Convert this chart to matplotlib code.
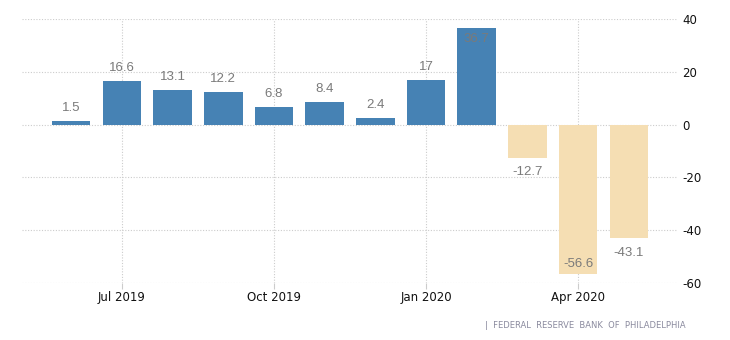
import matplotlib
matplotlib.use("Agg")
import matplotlib.pyplot as plt

months = ["Jun 2019", "Jul 2019", "Aug 2019", "Sep 2019", "Oct 2019", "Nov 2019",
          "Dec 2019", "Jan 2020", "Feb 2020", "Mar 2020", "Apr 2020", "May 2020"]
values = [1.5, 16.6, 13.1, 12.2, 6.8, 8.4, 2.4, 17, 36.7, -12.7, -56.6, -43.1]
value_labels = ["1.5", "16.6", "13.1", "12.2", "6.8", "8.4", "2.4", "17", "36.7", "-12.7", "-56.6", "-43.1"]
tick_months = ["Jul 2019", "Oct 2019", "Jan 2020", "Apr 2020"]
yticks = [40, 20, 0, -20, -40, -60]
source = "|  FEDERAL  RESERVE  BANK  OF  PHILADELPHIA"

fig = plt.figure(figsize=(7.3, 3.4), dpi=100)
ax = fig.add_axes([22/730, 57/340, (677-22)/730, (283-19)/340])

x = list(range(len(values)))
colors = ["#4682B4" if v >= 0 else "#F5DEB3" for v in values]
ax.bar(x, values, width=0.76, color=colors, zorder=2)

ax.set_xlim(-0.97, 11.95)
ax.set_ylim(-60, 40)

label_font = dict(family=["Liberation Sans", "DejaVu Sans"], fontsize=9.5, color="#7a7a7a")
for xi, v, lab in zip(x, values, value_labels):
    if v >= 0:
        if v + 6 < 40:
            ax.annotate(lab, (xi, v), xytext=(0, 5), textcoords="offset points",
                        ha="center", va="bottom", zorder=3, **label_font)
        else:
            ax.annotate(lab, (xi, v), xytext=(0, -4), textcoords="offset points",
                        ha="center", va="top", zorder=3, **label_font)
    else:
        if v - 6 > -60:
            ax.annotate(lab, (xi, v), xytext=(0, -6), textcoords="offset points",
                        ha="center", va="top", zorder=3, **label_font)
        else:
            ax.annotate(lab, (xi, v), xytext=(0, 3), textcoords="offset points",
                        ha="center", va="bottom", zorder=3, **label_font)

ax.set_xticks([months.index(m) for m in tick_months])
ax.set_xticklabels(tick_months)
ax.set_yticks(yticks)
ax.set_yticklabels([str(t) for t in yticks])
ax.yaxis.tick_right()

for s in ax.spines.values():
    s.set_visible(False)

ax.grid(True, axis="both", color="#cccccc", linestyle=(0, (1, 1.5)), linewidth=0.8, zorder=0)
ax.tick_params(axis="x", length=4, color="#cccccc", pad=2, labelsize=8.5, labelcolor="#111111")
ax.tick_params(axis="y", length=0, pad=4, labelsize=8.5, labelcolor="#111111")

fig.text(686/730, 1 - 325/340, source, ha="right", va="center", fontsize=6,
         color="#8a8a9e", family=["DejaVu Sans"])

fig.savefig("out.png", dpi=100)
